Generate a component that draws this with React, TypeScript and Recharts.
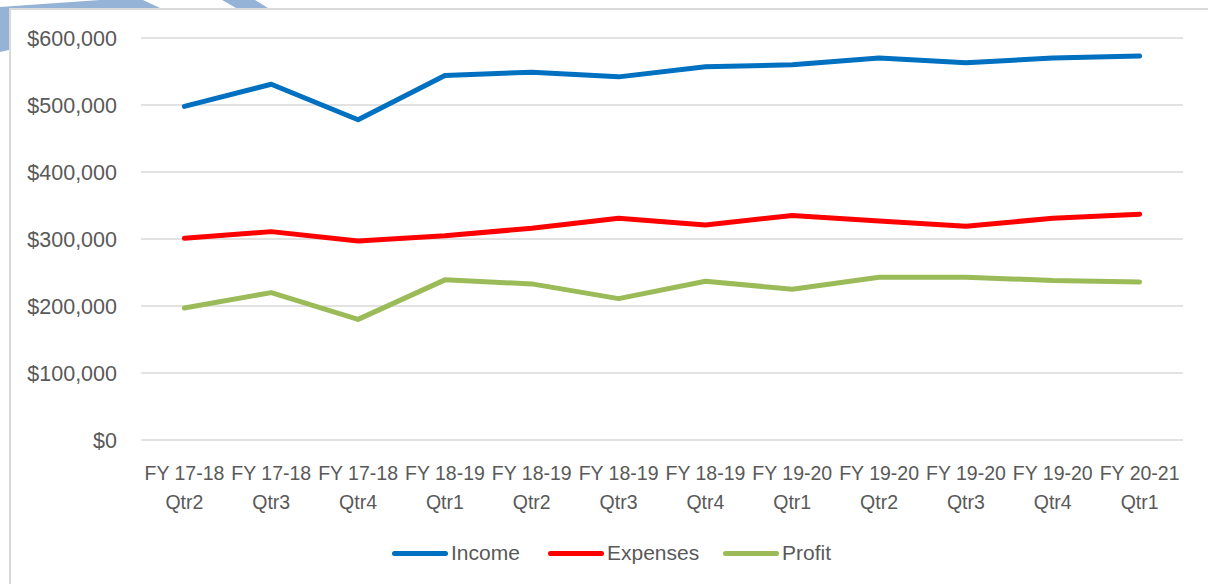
import React from 'react';
import { LineChart, Line, XAxis, YAxis, CartesianGrid, Legend } from 'recharts';

const quarters = [
  'FY 17-18 Qtr2', 'FY 17-18 Qtr3', 'FY 17-18 Qtr4', 'FY 18-19 Qtr1',
  'FY 18-19 Qtr2', 'FY 18-19 Qtr3', 'FY 18-19 Qtr4', 'FY 19-20 Qtr1',
  'FY 19-20 Qtr2', 'FY 19-20 Qtr3', 'FY 19-20 Qtr4', 'FY 20-21 Qtr1',
];
const income = [498000, 531000, 478000, 544000, 549000, 542000, 557000, 560000, 570000, 563000, 570000, 573000];
const expenses = [301000, 311000, 297000, 305000, 316000, 331000, 321000, 335000, 327000, 319000, 331000, 337000];
const profit = [197000, 220000, 180000, 239000, 233000, 211000, 237000, 225000, 243000, 243000, 238000, 236000];
const yTicks = [0, 100000, 200000, 300000, 400000, 500000, 600000];

const series = [
  { key: 'income', name: 'Income', color: '#0070C0', width: 156 },
  { key: 'expenses', name: 'Expenses', color: '#FF0000', width: 175 },
  { key: 'profit', name: 'Profit', color: '#9BBB59', width: 120 },
];

const data = quarters.map((q, i) => ({
  quarter: q,
  income: income[i],
  expenses: expenses[i],
  profit: profit[i],
}));

const FONT = "'Liberation Sans', Arial, sans-serif";
const TEXT = '#595959';

const formatMoney = (v: number) => '$' + v.toLocaleString('en-US');

const QuarterTick = (props: any) => {
  const { x, y, payload } = props;
  const value: string = payload.value;
  const cut = value.lastIndexOf(' ');
  return (
    <text x={x} y={y} textAnchor="middle" fill={TEXT} fontSize={19.5} fontFamily={FONT}>
      <tspan x={x} dy={39.5}>{value.slice(0, cut)}</tspan>
      <tspan x={x} dy={29}>{value.slice(cut + 1)}</tspan>
    </text>
  );
};

const LegendContent = () => (
  <div style={{ display: 'flex', paddingLeft: 392, paddingTop: 19, fontFamily: FONT, fontSize: 21, color: TEXT }}>
    {series.map((s) => (
      <div key={s.key} style={{ display: 'flex', alignItems: 'center', width: s.width, height: 24 }}>
        <div style={{ width: 56, height: 5, borderRadius: 3, background: s.color, marginRight: 3 }} />
        <span>{s.name}</span>
      </div>
    ))}
  </div>
);

export default function App() {
  return (
    <div style={{ position: 'fixed', left: 0, top: 0, width: 1208, height: 584, background: '#fff', overflow: 'hidden' }}>
      <svg width={1208} height={584} style={{ position: 'absolute', left: 0, top: 0 }}>
        <polygon points="0,7 100,0 143,0 160,8 9,8 9,50 0,52" fill="#95B3D7" />
        <polygon points="222,0 255,0 268,8 236,8" fill="#95B3D7" />
      </svg>
      <div
        style={{
          position: 'absolute', left: 9, top: 8, width: 1220, height: 600,
          borderLeft: '2px solid #d9d9d9', borderTop: '2px solid #d9d9d9', boxSizing: 'border-box',
        }}
      />
      <div style={{ position: 'absolute', left: 0, top: 0 }}>
        <LineChart width={1208} height={584} data={data} margin={{ top: 38, right: 25, bottom: 0, left: 0 }}>
          <CartesianGrid vertical={false} stroke="#d9d9d9" strokeWidth={1.3} />
          <XAxis
            dataKey="quarter"
            axisLine={false}
            tickLine={false}
            tickSize={0}
            tickMargin={0}
            height={82}
            interval={0}
            padding={{ left: 43.4, right: 43.4 }}
            tick={<QuarterTick />}
          />
          <YAxis
            domain={[0, 600000]}
            ticks={yTicks}
            tickFormatter={formatMoney}
            axisLine={false}
            tickLine={false}
            tickSize={0}
            tickMargin={24}
            width={141}
            tick={{ fill: TEXT, fontSize: 21.5, fontFamily: FONT }}
          />
          <Legend verticalAlign="bottom" height={62} wrapperStyle={{ left: 0, width: 1208 }} content={<LegendContent />} />
          {series.map((s) => (
            <Line
              key={s.key}
              type="linear"
              dataKey={s.key}
              name={s.name}
              stroke={s.color}
              strokeWidth={5}
              strokeLinecap="round"
              strokeLinejoin="round"
              dot={false}
              activeDot={false}
              isAnimationActive={false}
            />
          ))}
        </LineChart>
      </div>
    </div>
  );
}
